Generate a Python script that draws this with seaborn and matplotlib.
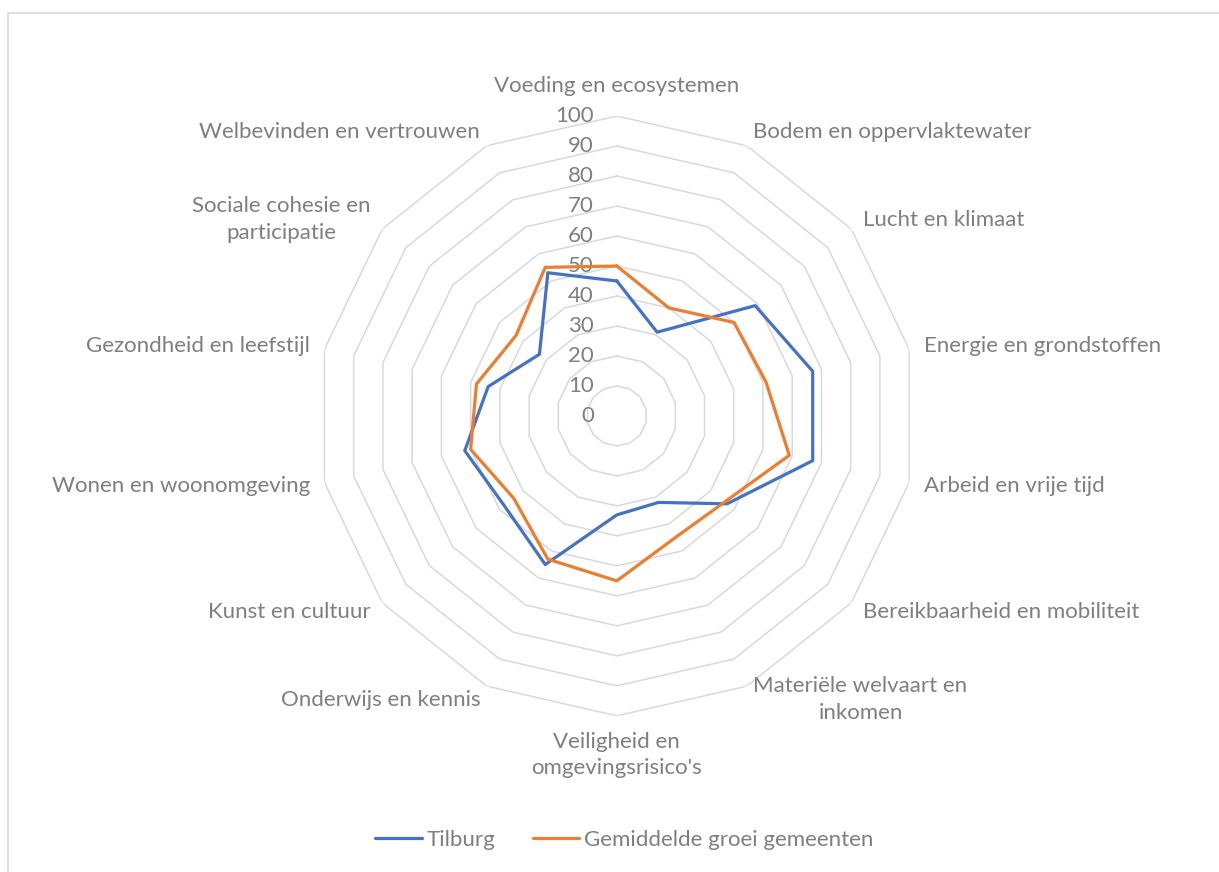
import numpy as np
import matplotlib
matplotlib.use('Agg')
import matplotlib.pyplot as plt
import seaborn as sns
from matplotlib.patches import Rectangle

# data
categories = ['Voeding en ecosystemen', 'Bodem en oppervlaktewater', 'Lucht en klimaat',
              'Energie en grondstoffen', 'Arbeid en vrije tijd', 'Bereikbaarheid en mobiliteit',
              'Materiële welvaart en\ninkomen', "Veiligheid en\nomgevingsrisico's",
              'Onderwijs en kennis', 'Kunst en cultuur', 'Wonen en woonomgeving',
              'Gezondheid en leefstijl', 'Sociale cohesie en\nparticipatie',
              'Welbevinden en vertrouwen']
tilburg = [45, 31, 59, 67, 67, 47, 32, 33, 55, 48, 52, 44, 33, 53]
gemiddeld = [50, 40, 50, 51, 59, 46, 45, 55, 53, 44, 50, 48, 43, 55]
series_names = ['Tilburg', 'Gemiddelde groei gemeenten']
series_colors = ['#4472C4', '#ED7D31']
ticks = list(range(0, 101, 10))

sns.set_style('white')
plt.rcParams['font.family'] = ['Lato', 'DejaVu Sans']
text_col = '#7F7F7F'
grid_col = '#D9D9D9'
fs = 16

n = len(categories)
angles = np.linspace(0, 2 * np.pi, n, endpoint=False)
ang_closed = np.append(angles, angles[0])

fig = plt.figure(figsize=(12.19, 8.72), dpi=100)
fig.patches.append(Rectangle((8 / 1219, -0.1), 1.2, 1 - 13 / 872 + 0.1,
                             transform=fig.transFigure, fill=False,
                             edgecolor=grid_col, linewidth=1.2))
ax = fig.add_axes([0.260, 0.179, 0.492, 0.688], projection='polar')
ax.set_theta_zero_location('N')
ax.set_theta_direction(-1)
ax.set_ylim(0, 100)
ax.grid(False)
ax.spines['polar'].set_visible(False)
ax.set_xticks([])
ax.set_yticks([])

# polygon gridlines
for t in ticks[1:]:
    ax.plot(ang_closed, [t] * (n + 1), color=grid_col, linewidth=1.1, zorder=1)

# radial axis labels
for t in ticks:
    ax.annotate(str(t), xy=(0, t), xytext=(-23, 0), textcoords='offset pixels',
                ha='right', va='center', fontsize=fs, color=text_col, zorder=2)

# series
for vals, name, col in zip([tilburg, gemiddeld], series_names, series_colors):
    ax.plot(ang_closed, vals + vals[:1], color=col, linewidth=2.3, label=name, zorder=3)

# category labels
d = 15
for a, lab in zip(angles, categories):
    s, c = np.sin(a), np.cos(a)
    if abs(s) < 1e-6:
        ha = 'center'
        va = 'bottom' if c > 0 else 'top'
        off = (0, 20) if c > 0 else (0, -16)
    else:
        ha = 'left' if s > 0 else 'right'
        va = 'center'
        off = (s * d, c * d)
    ax.annotate(lab, xy=(a, 100), xytext=off, textcoords='offset pixels',
                ha=ha, va=va, fontsize=fs, color=text_col, linespacing=1.4,
                multialignment='center', annotation_clip=False)

leg = fig.legend(loc='center', bbox_to_anchor=(0.512, 1 - 840 / 872), ncol=2,
                 frameon=False, fontsize=fs, handlelength=2.1, columnspacing=1.7,
                 handletextpad=0.2)
for txt in leg.get_texts():
    txt.set_color(text_col)

fig.savefig('out.png', dpi=100)
